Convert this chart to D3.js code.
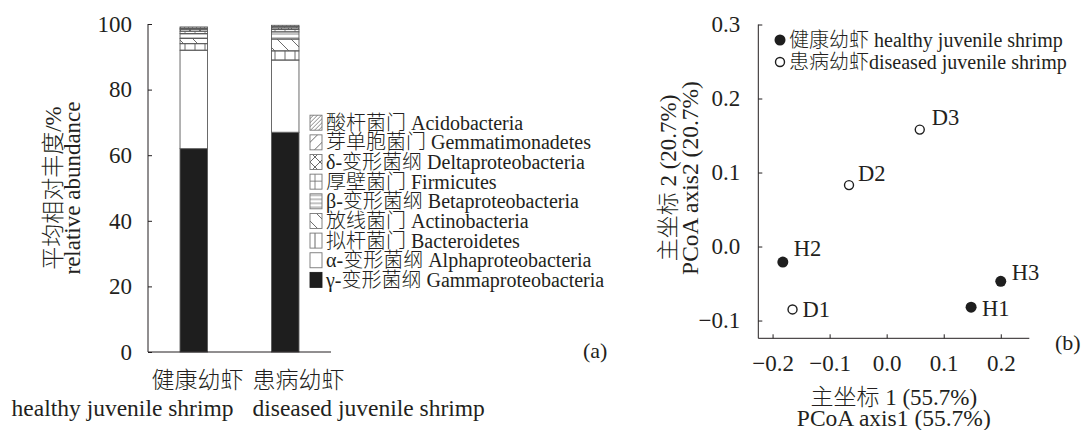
<html>
<head>
<meta charset="UTF-8">
<script src="https://d3js.org/d3.v7.min.js"></script>
<style>
  body { margin: 0; background: #fff; }
  text { font-family: "Liberation Serif", "Noto Sans CJK SC", serif; fill: #231f20; font-weight: 300; }
</style>
</head>
<body>
<svg id="chart" width="1085" height="430"></svg>
<script>
// ---- data (a): stacked relative abundance, bottom -> top
const groups = ['健康幼虾', '患病幼虾']
const groupsEn = ['healthy juvenile shrimp', 'diseased juvenile shrimp']
const taxa = ['gamma', 'alpha', 'bacter', 'actino', 'beta', 'firm', 'delta', 'gemma', 'acido']
const taxaLabels = ['γ-变形菌纲 Gammaproteobacteria', 'α-变形菌纲 Alphaproteobacteria', '拟杆菌门 Bacteroidetes',
  '放线菌门 Actinobacteria', 'β-变形菌纲 Betaproteobacteria', '厚壁菌门 Firmicutes',
  'δ-变形菌纲 Deltaproteobacteria', '芽单胞菌门 Gemmatimonadetes', '酸杆菌门 Acidobacteria']
const healthy = [62, 30, 2.0, 1.6, 1.5, 0.7, 0.6, 0.3, 0.4]
const diseased = [67, 22, 2.8, 3.6, 2.2, 0.7, 0.5, 0.4, 0.4]
const yTicksA = [0, 20, 40, 60, 80, 100]

// ---- data (b): PCoA
const samples = ['H1', 'H2', 'H3', 'D1', 'D2', 'D3']
const pc1 = [0.148, -0.182, 0.200, -0.165, -0.066, 0.058]
const pc2 = [-0.082, -0.021, -0.047, -0.085, 0.083, 0.158]
const sampleGroup = ['healthy', 'healthy', 'healthy', 'diseased', 'diseased', 'diseased']
const xTicksB = [-0.2, -0.1, 0.0, 0.1, 0.2]
const yTicksB = [-0.1, 0.0, 0.1, 0.2, 0.3]

const svg = d3.select('svg#chart')
const ink = '#231f20'
const hatch = '#6a6a6a'
const serif = '"Liberation Serif", serif'

// patterns for the bar segments
const defs = svg.append('defs')
function pat(id, w, h, d, sw) {
  defs.append('pattern').attr('id', id).attr('patternUnits', 'userSpaceOnUse')
    .attr('width', w).attr('height', h)
    .append('path').attr('d', d).attr('stroke', hatch).attr('stroke-width', sw || 1).attr('fill', 'none')
}
pat('p-acido', 4, 4, 'M0,4L4,0M-1,1L1,-1M3,5L5,3', 0.8)
pat('p-gemma', 12, 12, 'M0,12L12,0M-1,1L1,-1M11,13L13,11')
pat('p-delta', 10, 10, 'M0,0L10,10M10,0L0,10')
pat('p-firm', 10, 9, 'M5,0V9M0,8.5H10', 0.8)
pat('p-beta', 4, 4, 'M0,2H4', 0.8)
pat('p-actino', 14, 14, 'M0,0L14,14M-1,13L1,15M13,-1L15,1')
pat('p-bacter', 10, 10, 'M5,0V10')
const fills = { gamma: '#1e1e1e', alpha: '#fff', bacter: 'url(#p-bacter)', actino: 'url(#p-actino)',
  beta: 'url(#p-beta)', firm: 'url(#p-firm)', delta: 'url(#p-delta)', gemma: 'url(#p-gemma)', acido: 'url(#p-acido)' }

// ================= (a) =================
const xA = d3.scaleBand().domain(groups).range([148, 331]).paddingInner(0.7).paddingOuter(0.35)
const yA = d3.scaleLinear().domain([0, 100]).range([352, 24])

const rows = groups.map((g, i) => {
  const vals = i === 0 ? healthy : diseased
  const r = { group: g }
  taxa.forEach((t, j) => r[t] = vals[j])
  return r
})
const stacked = d3.stack().keys(taxa)(rows)

svg.append('g').selectAll('g').data(stacked).join('g')
  .attr('fill', d => fills[d.key])
  .selectAll('rect').data(d => d).join('rect')
  .attr('x', d => xA(d.data.group))
  .attr('width', xA.bandwidth())
  .attr('y', d => yA(d[1]))
  .attr('height', d => yA(d[0]) - yA(d[1]))
  .attr('stroke', '#5a5a5a').attr('stroke-width', 0.9)

const axA = svg.append('g').attr('transform', 'translate(148,0)')
  .call(d3.axisRight(yA).tickValues(yTicksA).tickSize(4).tickFormat(d3.format('d')))
axA.select('.domain').attr('d', `M0,${yA(100)}V${yA(0)}`).attr('stroke', ink)
axA.selectAll('.tick line').attr('stroke', ink)
axA.selectAll('.tick text').attr('x', -16).attr('text-anchor', 'end')
  .style('font-size', '23px').style('font-family', serif)
svg.append('line').attr('x1', 148).attr('x2', 331).attr('y1', yA(0)).attr('y2', yA(0)).attr('stroke', ink)

// y title
const ytA = svg.append('g').attr('transform', `translate(0,${(yA(0) + yA(100)) / 2}) rotate(-90)`)
ytA.append('text').attr('x', 0).attr('y', 61).attr('text-anchor', 'middle').style('font-size', '23px').text('平均相对丰度/%')
ytA.append('text').attr('x', 0).attr('y', 80).attr('text-anchor', 'middle').style('font-size', '23px').text('relative abundance')

// x labels
const xMid = (xA(groups[0]) + xA.bandwidth() + xA(groups[1])) / 2
svg.append('text').attr('x', xMid + 4).attr('y', 388).attr('text-anchor', 'end').style('font-size', '23px').text(groups[0])
svg.append('text').attr('x', xMid + 13).attr('y', 388).attr('text-anchor', 'start').style('font-size', '23px').text(groups[1])
svg.append('text').attr('x', xMid - 6).attr('y', 416).attr('text-anchor', 'end').style('font-size', '23.5px').text(groupsEn[0])
svg.append('text').attr('x', xMid + 13).attr('y', 416).attr('text-anchor', 'start').style('font-size', '23.5px').text(groupsEn[1])

// legend (top -> bottom is reverse of stack)
const legendKeys = taxa.slice().reverse()
const legendLabels = taxaLabels.slice().reverse()
const lg = svg.append('g').selectAll('g').data(legendKeys).join('g')
  .attr('transform', (d, i) => `translate(310,${122.7 + i * 19.65})`)
lg.append('rect').attr('x', 0).attr('y', -7.5).attr('width', 12).attr('height', 15)
  .attr('fill', d => fills[d]).attr('stroke', d => d === 'gamma' ? '#1e1e1e' : '#777').attr('stroke-width', 0.9)
lg.append('text').attr('x', 16).attr('y', 7).style('font-size', '20px')
  .text((d, i) => legendLabels[i])

svg.append('text').attr('x', 583).attr('y', 358).style('font-size', '22px').text('(a)')

// ================= (b) =================
const xB = d3.scaleLinear().domain([-0.225, 0.25]).range([758.3, 1029.3])
const yB = d3.scaleLinear().domain([-0.124, 0.3]).range([338.3, 24.5])
const fmt = d3.format('.1f')

const axBx = svg.append('g').attr('transform', `translate(0,${yB(-0.124)})`)
  .call(d3.axisTop(xB).tickValues(xTicksB).tickSize(4).tickFormat(fmt))
axBx.select('.domain').attr('d', `M${xB(-0.225)},0H${xB(0.25)}`).attr('stroke', ink)
axBx.selectAll('.tick line').attr('stroke', ink)
axBx.selectAll('.tick text').attr('y', 33).style('font-size', '23px').style('font-family', serif)

const axBy = svg.append('g').attr('transform', `translate(${xB(-0.225)},0)`)
  .call(d3.axisRight(yB).tickValues(yTicksB).tickSize(4).tickFormat(fmt))
axBy.select('.domain').attr('d', `M0,${yB(0.3)}V${yB(-0.124)}`).attr('stroke', ink)
axBy.selectAll('.tick line').attr('stroke', ink)
axBy.selectAll('.tick text').attr('x', -18).attr('text-anchor', 'end')
  .style('font-size', '23px').style('font-family', serif)

// axis titles
const cxB = (xB(-0.225) + xB(0.25)) / 2
svg.append('text').attr('x', cxB).attr('y', 405).attr('text-anchor', 'middle').style('font-size', '23px').text('主坐标 1 (55.7%)')
svg.append('text').attr('x', cxB).attr('y', 426).attr('text-anchor', 'middle').style('font-size', '23.5px').text('PCoA axis1 (55.7%)')
const ytB = svg.append('g').attr('transform', `translate(0,178) rotate(-90)`)
ytB.append('text').attr('x', 0).attr('y', 676).attr('text-anchor', 'middle').style('font-size', '23px').text('主坐标 2 (20.7%)')
ytB.append('text').attr('x', 0).attr('y', 698).attr('text-anchor', 'middle').style('font-size', '23.5px').text('PCoA axis2 (20.7%)')

// points
const pts = samples.map((s, i) => ({ s, x: pc1[i], y: pc2[i], g: sampleGroup[i] }))
const labelShift = { H1: [11, 1], H2: [11, -14], H3: [11, -9], D1: [10, 0], D2: [9, -12], D3: [12, -12] }
svg.append('g').selectAll('circle').data(pts).join('circle')
  .attr('cx', d => xB(d.x)).attr('cy', d => yB(d.y))
  .attr('r', d => d.g === 'healthy' ? 5.5 : 4.5)
  .attr('fill', d => d.g === 'healthy' ? '#1e1e1e' : '#fff')
  .attr('stroke', '#1e1e1e').attr('stroke-width', d => d.g === 'healthy' ? 0 : 1.4)
svg.append('g').selectAll('text').data(pts).join('text')
  .attr('x', d => xB(d.x) + labelShift[d.s][0])
  .attr('y', d => yB(d.y) + labelShift[d.s][1])
  .attr('dy', '0.35em').style('font-size', '22.5px').text(d => d.s)

// legend (b)
const lgB = svg.append('g')
lgB.append('circle').attr('cx', 780).attr('cy', 40).attr('r', 5.5).attr('fill', '#1e1e1e')
lgB.append('text').attr('x', 789).attr('y', 40).attr('dy', '0.35em').style('font-size', '20px').text('健康幼虾 healthy juvenile shrimp')
lgB.append('circle').attr('cx', 780).attr('cy', 62).attr('r', 4.5).attr('fill', '#fff').attr('stroke', '#1e1e1e').attr('stroke-width', 1.4)
lgB.append('text').attr('x', 789).attr('y', 62).attr('dy', '0.35em').style('font-size', '20px').text('患病幼虾diseased juvenile shrimp')

svg.append('text').attr('x', 1055).attr('y', 350).style('font-size', '22px').text('(b)')
</script>
</body>
</html>
